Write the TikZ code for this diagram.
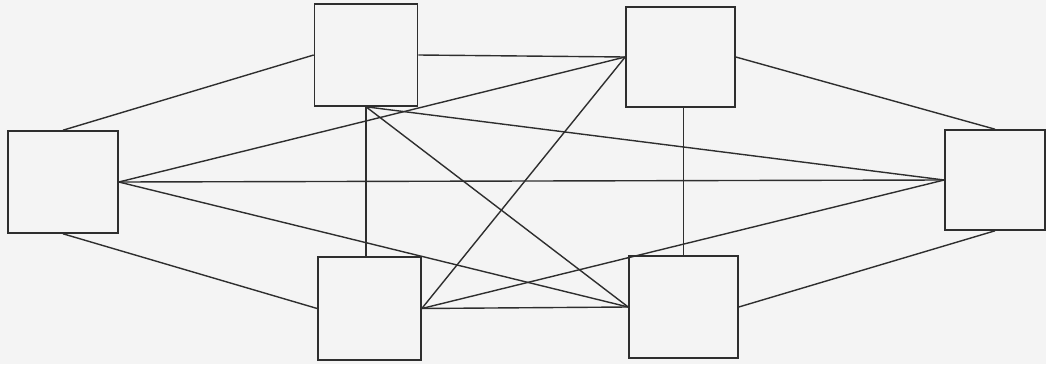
\documentclass[tikz,border=0pt]{standalone}
\usepackage{xcolor}
\usepackage{tikz}
\usetikzlibrary{backgrounds}
\definecolor{ink}{HTML}{2E2E2E}
\definecolor{paper}{HTML}{F4F4F4}
\tikzset{
  box/.style={draw=ink, line width=1.6pt, inner sep=0pt},
  edge/.style={draw=ink, line width=1.4pt},
}

\begin{document}
\begin{tikzpicture}[x=1pt, y=-1pt]
  \fill[paper] (0,0) rectangle (1046,364);
  \useasboundingbox (0,0) rectangle (1046,364);
  % six stations
  \node[box, minimum width=110pt, minimum height=102pt] (west) at (63,182) {};
  \node[box, minimum width=103pt, minimum height=102pt] (nw) at (366,55) {};
  \node[box, minimum width=109pt, minimum height=100pt] (ne) at (680.5,57) {};
  \node[box, minimum width=100pt, minimum height=100pt] (east) at (995,180) {};
  \node[box, minimum width=103pt, minimum height=103pt] (sw) at (369.5,308.5) {};
  \node[box, minimum width=109pt, minimum height=102pt] (se) at (683.5,307) {};

  % every pair is linked
  \draw[edge] (west.north) -- (nw.west);
  \draw[edge] (west.south) -- (sw.west);
  \draw[edge] (west.east) -- (ne.west);
  \draw[edge] (west.east) -- (east.west);
  \draw[edge] (west.east) -- (se.west);
  \draw[edge] (nw.east) -- (ne.west);
  \draw[edge] (nw.south) -- (nw.south |- sw.north);
  \draw[edge] (nw.south) -- (east.west);
  \draw[edge] (nw.south) -- (se.west);
  \draw[edge] (ne.west) -- (sw.east);
  \draw[edge] (se.north |- ne.south) -- (se.north);
  \draw[edge] (ne.east) -- (east.north);
  \draw[edge] (sw.east) -- (east.west);
  \draw[edge] (sw.east) -- (se.west);
  \draw[edge] (se.east) -- (east.south);
\end{tikzpicture}
\end{document}
